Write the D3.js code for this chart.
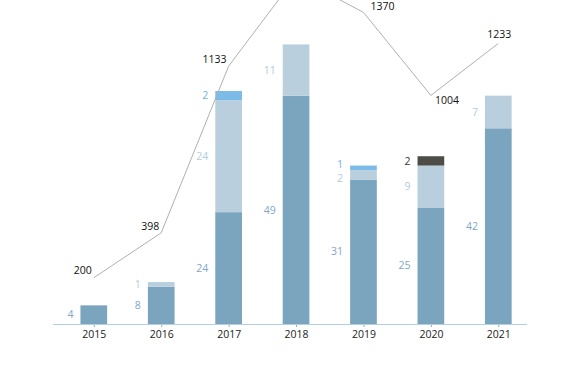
<!DOCTYPE html>
<html>
<head>
<meta charset="utf-8">
<script src="https://cdn.jsdelivr.net/npm/d3@7/dist/d3.min.js"></script>
<style>
  html, body { margin: 0; padding: 0; background: #fff; }
  svg { display: block; font-family: "Open Sans", "Lato", sans-serif; }
</style>
</head>
<body>
<svg id="chart" width="570" height="380"></svg>
<script>
// ---- data ----
const years = ["2015", "2016", "2017", "2018", "2019", "2020", "2021"];
const seriesA = [4, 8, 24, 49, 31, 25, 42];
const seriesB = [0, 1, 24, 11, 2, 9, 7];
const seriesC = [0, 0, 2, 0, 1, 0, 0];
const seriesD = [0, 0, 0, 0, 0, 2, 0];
const lineValues = [200, 398, 1133, 1528, 1370, 1004, 1233];
// label placement for line values (style); the 2018 label lies outside the visible area
const lineLabelPos = ["left", "left", "left", "none", "right", "below", "above"];

const seriesList = [
  { values: seriesA, fill: "#7ba4be", text: "#7fa8ca" },
  { values: seriesB, fill: "#bacfde", text: "#b3cbe0" },
  { values: seriesC, fill: "#7cbbe7", text: "#6fb3e6" },
  { values: seriesD, fill: "#4e4c47", text: "#333333" }
];

const FS = 10.5;
const svg = d3.select("#chart");
const axisY = 324;

const x = d3.scalePoint().domain(years).range([93.8, 498.3]);
const barW = 26.7;
const y = d3.scaleLinear().domain([0, 60]).range([axisY, axisY - 4.66 * 60]);
const yLine = d3.scaleLinear().domain([0, 1370]).range([323.1, 323.1 - 0.2268 * 1370]);

// axis line
svg.append("line")
  .attr("x1", 53).attr("x2", 527)
  .attr("y1", axisY + 0.5).attr("y2", axisY + 0.5)
  .attr("stroke", "#b3cfe2").attr("stroke-width", 1);

// stacked bars
const stackData = years.map((yr, i) => {
  const o = { year: yr };
  seriesList.forEach((s, k) => o["s" + k] = s.values[i]);
  return o;
});
const keys = seriesList.map((s, k) => "s" + k);
const stacked = d3.stack().keys(keys)(stackData);

const labelsByBar = years.map(() => []);
stacked.forEach((layer, k) => {
  const s = seriesList[k];
  layer.forEach((d, i) => {
    const v = d[1] - d[0];
    if (v <= 0) return;
    svg.append("rect")
      .attr("x", x(years[i]) - barW / 2)
      .attr("width", barW)
      .attr("y", y(d[1]))
      .attr("height", y(d[0]) - y(d[1]))
      .attr("fill", s.fill);
    labelsByBar[i].push({ v, color: s.text, ly: (y(d[0]) + y(d[1])) / 2 });
  });
});

// spread labels within a bar so they don't overlap
const minGap = 13.5;
labelsByBar.forEach((labels, i) => {
  for (let pass = 0; pass < 5; pass++) {
    for (let j = 1; j < labels.length; j++) {
      const lo = labels[j - 1], hi = labels[j]; // hi is above (smaller y)
      const gap = lo.ly - hi.ly;
      if (gap < minGap) {
        const push = (minGap - gap) / 2;
        lo.ly += push; hi.ly -= push;
      }
    }
  }
  labels.forEach(l => {
    svg.append("text")
      .attr("x", x(years[i]) - barW / 2 - 7)
      .attr("y", l.ly)
      .attr("dy", "0.35em")
      .attr("text-anchor", "end")
      .attr("font-size", FS)
      .attr("fill", l.color)
      .text(l.v);
  });
});

// x axis ticks and labels
const xAxis = d3.axisBottom(x).tickSize(2).tickPadding(4);
const ax = svg.append("g").attr("transform", `translate(0,${axisY + 1})`).call(xAxis);
ax.select(".domain").remove();
ax.selectAll(".tick line").attr("stroke", "#9aa7b3");
ax.selectAll(".tick text")
  .attr("font-size", FS)
  .attr("fill", "#222")
  .attr("font-family", "'Open Sans', Lato, sans-serif");

// line
const line = d3.line()
  .x((d, i) => x(years[i]))
  .y(d => yLine(d));
svg.append("path")
  .datum(lineValues)
  .attr("d", line)
  .attr("fill", "none")
  .attr("stroke", "#b0b0b0")
  .attr("stroke-width", 1);

// line labels
lineValues.forEach((v, i) => {
  const px = x(years[i]), py = yLine(v);
  const pos = lineLabelPos[i];
  if (pos === "none") return;
  let tx = px, ty = py, anchor = "middle";
  if (pos === "left") { tx = px - 2; ty = py - 7; anchor = "end"; }
  else if (pos === "right") { tx = px + 7; ty = py - 6; anchor = "start"; }
  else if (pos === "below") { tx = px + 4; ty = py + 5; anchor = "start"; }
  else if (pos === "above") { tx = px + 1; ty = py - 9; anchor = "middle"; }
  svg.append("text")
    .attr("x", tx).attr("y", ty)
    .attr("dy", "0.35em")
    .attr("text-anchor", anchor)
    .attr("font-size", FS)
    .attr("fill", "#111")
    .text(v);
});
</script>
</body>
</html>
